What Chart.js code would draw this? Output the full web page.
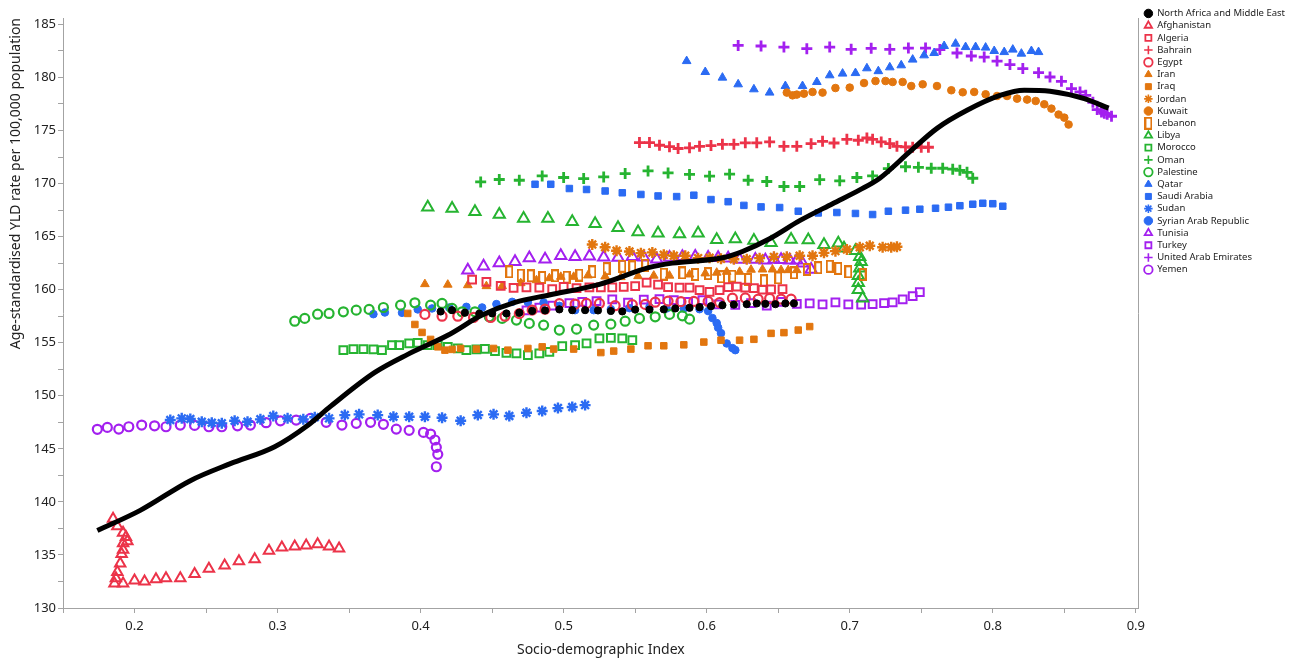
<!DOCTYPE html>
<html lang="en">
<head>
  <meta charset="UTF-8">
  <title>SDI vs YLD rate</title>
  <script src="https://cdn.jsdelivr.net/npm/chart.js"></script>
  <style>
    html, body { margin: 0; padding: 0; background: #fff; }
    #wrap { width: 1295px; height: 660px; }
  </style>
</head>
<body>
  <div id="wrap"><canvas id="sdiChart" width="1295" height="660"></canvas></div>

  <script>
    // ---- data (x = SDI, y = YLD rate) ----
    const fitX = [0.174,0.204,0.239,0.267,0.298,0.321,0.337,0.368,0.391,0.419,0.443,0.466,0.490,0.525,0.560,0.576,0.611,0.625,0.644,0.665,0.688,0.707,0.721,0.742,0.761,0.782,0.805,0.822,0.840,0.864,0.881];
    const fitY = [137.3,139.2,142.0,143.6,145.2,147.2,149.0,152.2,153.9,155.7,157.6,158.8,159.5,160.5,162.1,162.5,163.0,163.6,164.8,166.5,168.1,169.4,170.5,173.0,175.2,176.9,178.3,178.8,178.7,178.0,177.1];

    const nameX = [0.414,0.422,0.431,0.441,0.450,0.460,0.469,0.478,0.487,0.497,0.506,0.515,0.524,0.533,0.541,0.550,0.560,0.570,0.578,0.588,0.595,0.603,0.611,0.619,0.628,0.635,0.641,0.648,0.655,0.661];
    const nameY = [157.94,158.07,157.83,157.74,157.76,157.76,157.83,158.00,158.04,158.14,158.07,158.07,158.04,157.99,157.95,158.12,158.12,158.14,158.23,158.29,158.35,158.44,158.54,158.59,158.63,158.70,158.66,158.63,158.70,158.70];

    const afgX = [0.185,0.188,0.192,0.194,0.195,0.192,0.192,0.191,0.190,0.188,0.187,0.186,0.192,0.200,0.207,0.215,0.222,0.232,0.242,0.252,0.263,0.273,0.284,0.294,0.303,0.312,0.320,0.328,0.336,0.343];
    const afgY = [138.4,137.7,137.1,136.7,136.3,136.1,135.5,135.1,134.2,133.4,132.8,132.3,132.3,132.6,132.5,132.7,132.8,132.8,133.2,133.7,134.0,134.4,134.6,135.4,135.7,135.8,135.9,136.0,135.8,135.6];

    const algX = [0.436,0.446,0.456,0.465,0.474,0.483,0.492,0.500,0.509,0.518,0.526,0.534,0.542,0.550,0.558,0.566,0.573,0.581,0.588,0.595,0.602,0.609,0.615,0.621,0.627,0.633,0.639,0.645,0.653];
    const algY = [160.94,160.73,160.36,160.17,160.21,160.19,160.05,160.26,160.14,160.21,160.21,160.21,160.26,160.33,160.66,160.47,160.24,160.19,160.19,159.95,159.79,159.95,160.24,160.28,160.19,160.14,160.00,160.02,160.05];

    const bhrX = [0.553,0.560,0.567,0.574,0.580,0.588,0.595,0.603,0.611,0.619,0.627,0.635,0.644,0.654,0.663,0.673,0.681,0.689,0.698,0.706,0.712,0.716,0.722,0.728,0.733,0.739,0.744,0.750,0.755];
    const bhrY = [173.86,173.86,173.61,173.47,173.30,173.37,173.51,173.58,173.70,173.70,173.84,173.84,173.92,173.51,173.51,173.76,173.98,173.82,174.17,174.08,174.29,174.17,173.92,173.77,173.51,173.45,173.42,173.42,173.42];

    const egyX = [0.403,0.415,0.426,0.437,0.449,0.459,0.469,0.478,0.487,0.497,0.508,0.516,0.525,0.536,0.548,0.557,0.564,0.573,0.582,0.591,0.601,0.609,0.618,0.627,0.636,0.644,0.652,0.659];
    const egyY = [157.67,157.50,157.50,157.38,157.38,157.50,157.74,158.07,158.16,158.68,158.63,158.70,158.70,158.49,158.59,158.61,158.82,158.92,158.87,158.89,158.89,158.78,159.20,159.22,159.11,159.17,159.11,159.11];

    const irnX = [0.403,0.419,0.433,0.446,0.457,0.470,0.481,0.490,0.498,0.507,0.517,0.529,0.540,0.552,0.563,0.574,0.588,0.599,0.607,0.614,0.623,0.631,0.639,0.646,0.652,0.657,0.663];
    const irnY = [160.52,160.47,160.42,160.33,160.33,160.61,160.89,161.08,161.21,161.21,161.34,161.24,161.18,161.27,161.32,161.32,161.43,161.53,161.60,161.68,161.68,161.88,161.90,161.90,161.84,161.84,161.84];

    const irqX = [0.391,0.396,0.401,0.407,0.412,0.417,0.422,0.428,0.439,0.451,0.461,0.475,0.485,0.493,0.507,0.526,0.535,0.547,0.559,0.570,0.584,0.598,0.610,0.623,0.633,0.645,0.654,0.664,0.672];
    const irqY = [157.76,156.72,155.97,155.31,154.61,154.30,154.37,154.46,154.40,154.46,154.30,154.46,154.61,154.40,154.40,154.07,154.21,154.40,154.71,154.71,154.80,155.06,155.24,155.24,155.32,155.88,155.95,156.19,156.52];

    const jorX = [0.520,0.529,0.537,0.546,0.554,0.562,0.570,0.577,0.585,0.594,0.602,0.610,0.619,0.628,0.637,0.647,0.656,0.665,0.674,0.682,0.690,0.698,0.707,0.714,0.723,0.729,0.733];
    const jorY = [164.26,164.00,163.67,163.60,163.44,163.51,163.28,163.20,163.20,162.97,163.01,162.92,162.87,162.87,162.97,163.09,163.09,163.20,163.20,163.47,163.63,163.79,164.00,164.14,164.00,164.00,164.05];

    const kwtX = [0.656,0.660,0.663,0.668,0.674,0.681,0.690,0.700,0.710,0.718,0.725,0.730,0.737,0.743,0.751,0.761,0.771,0.779,0.787,0.795,0.803,0.810,0.817,0.824,0.830,0.836,0.841,0.846,0.850,0.853];
    const kwtY = [178.57,178.31,178.38,178.47,178.63,178.57,179.00,179.04,179.47,179.66,179.66,179.57,179.57,179.19,179.35,179.19,178.79,178.60,178.63,178.41,178.25,178.25,178.00,177.91,177.78,177.47,177.06,176.50,176.21,175.56];

    const lbnX = [0.462,0.470,0.477,0.485,0.494,0.502,0.511,0.520,0.530,0.541,0.548,0.557,0.570,0.583,0.592,0.601,0.610,0.618,0.629,0.640,0.650,0.661,0.670,0.678,0.686,0.692,0.699,0.709];
    const lbnY = [161.68,161.37,161.30,161.15,161.30,161.18,161.37,161.68,161.98,162.21,162.15,162.31,161.46,161.58,161.43,161.51,161.21,161.27,160.96,160.83,161.11,161.58,161.90,162.07,162.21,162.00,161.68,161.42];

    const lbyX = [0.405,0.422,0.438,0.455,0.472,0.489,0.506,0.522,0.538,0.552,0.566,0.581,0.594,0.607,0.620,0.633,0.645,0.659,0.671,0.682,0.692,0.696,0.704,0.707,0.708,0.707,0.706,0.706,0.706,0.709];
    const lbyY = [167.77,167.65,167.33,167.08,166.70,166.70,166.40,166.21,165.84,165.44,165.32,165.25,165.32,164.71,164.77,164.63,164.43,164.73,164.69,164.24,164.38,163.91,163.67,163.11,162.64,162.02,161.32,160.66,160.00,159.20];

    const marX = [0.346,0.353,0.360,0.367,0.373,0.380,0.385,0.392,0.398,0.405,0.412,0.419,0.426,0.432,0.439,0.445,0.452,0.460,0.467,0.475,0.483,0.490,0.499,0.508,0.516,0.525,0.533,0.541,0.548];
    const marY = [154.30,154.40,154.40,154.37,154.30,154.77,154.77,154.93,154.99,154.77,154.77,154.61,154.46,154.30,154.37,154.42,154.21,154.05,153.99,153.83,153.99,154.14,154.68,154.77,154.93,155.40,155.46,155.40,155.24];

    const omnX = [0.442,0.455,0.469,0.485,0.500,0.514,0.528,0.543,0.559,0.573,0.588,0.602,0.616,0.629,0.642,0.654,0.665,0.679,0.693,0.705,0.716,0.727,0.739,0.748,0.757,0.765,0.772,0.777,0.782,0.786];
    const omnY = [170.15,170.38,170.31,170.72,170.57,170.47,170.62,170.94,171.19,171.00,170.86,170.69,170.88,170.31,170.19,169.72,169.72,170.36,170.26,170.57,170.72,171.41,171.58,171.53,171.44,171.44,171.35,171.25,171.06,170.50];

    const pseX = [0.312,0.319,0.328,0.336,0.346,0.355,0.364,0.374,0.386,0.396,0.407,0.415,0.422,0.429,0.438,0.448,0.457,0.467,0.476,0.486,0.497,0.509,0.521,0.533,0.543,0.553,0.564,0.574,0.583,0.588];
    const pseY = [157.03,157.29,157.69,157.76,157.91,158.07,158.14,158.32,158.54,158.76,158.54,158.70,158.23,157.91,157.91,157.44,157.29,157.13,156.82,156.66,156.19,156.28,156.66,156.75,157.03,157.29,157.44,157.67,157.53,157.22];

    const qatX = [0.586,0.599,0.611,0.622,0.633,0.644,0.655,0.667,0.677,0.686,0.695,0.704,0.712,0.720,0.728,0.736,0.744,0.752,0.759,0.766,0.774,0.781,0.788,0.795,0.801,0.808,0.814,0.820,0.827,0.832];
    const qatY = [181.54,180.51,179.98,179.35,178.88,178.57,179.19,179.19,179.57,180.20,180.36,180.41,180.86,180.59,180.95,181.14,181.68,182.08,182.30,182.96,183.18,182.86,182.86,182.81,182.49,182.39,182.62,182.24,182.49,182.39];

    const sauX = [0.480,0.491,0.504,0.516,0.529,0.541,0.554,0.566,0.579,0.591,0.603,0.615,0.626,0.638,0.651,0.664,0.678,0.691,0.704,0.716,0.727,0.739,0.749,0.760,0.769,0.777,0.786,0.793,0.800,0.807];
    const sauY = [169.93,169.93,169.53,169.44,169.30,169.13,168.97,168.83,168.77,168.90,168.49,168.29,167.94,167.80,167.74,167.39,167.23,167.27,167.18,167.08,167.39,167.49,167.58,167.67,167.77,167.91,168.05,168.14,168.10,167.86];

    const sdnX = [0.225,0.233,0.239,0.247,0.254,0.261,0.270,0.279,0.288,0.297,0.307,0.318,0.326,0.336,0.347,0.357,0.370,0.381,0.392,0.403,0.415,0.428,0.440,0.451,0.462,0.474,0.485,0.496,0.506,0.515];
    const sdnY = [147.71,147.87,147.81,147.55,147.46,147.40,147.64,147.55,147.78,148.09,147.87,147.78,147.97,147.87,148.18,148.25,148.18,148.02,148.02,148.02,147.93,147.64,148.18,148.25,148.09,148.40,148.56,148.84,148.94,149.12];

    const syrX = [0.367,0.375,0.387,0.398,0.408,0.420,0.432,0.443,0.453,0.464,0.475,0.486,0.497,0.508,0.521,0.533,0.546,0.560,0.572,0.584,0.595,0.601,0.604,0.607,0.608,0.610,0.614,0.618,0.620];
    const syrY = [157.69,157.85,157.82,158.14,158.23,158.31,158.38,158.32,158.64,158.85,158.82,158.79,158.47,158.07,158.07,158.16,158.26,158.35,158.23,158.23,158.16,157.98,157.32,156.85,156.42,155.90,154.93,154.49,154.30];

    const tunX = [0.433,0.444,0.455,0.466,0.476,0.487,0.498,0.508,0.518,0.528,0.538,0.548,0.556,0.565,0.574,0.583,0.592,0.601,0.608,0.615,0.623,0.634,0.641,0.647,0.652,0.658,0.663,0.667,0.673];
    const tunY = [161.84,162.21,162.52,162.62,162.99,162.87,163.20,163.09,163.15,163.06,163.03,163.09,163.06,162.87,163.03,163.09,163.13,163.03,163.01,162.97,162.84,162.84,162.78,162.84,162.82,162.78,162.78,162.50,161.90];

    const turX = [0.474,0.483,0.492,0.504,0.513,0.523,0.534,0.545,0.556,0.567,0.577,0.587,0.597,0.608,0.620,0.631,0.642,0.652,0.663,0.672,0.681,0.690,0.699,0.708,0.716,0.724,0.730,0.737,0.744,0.749];
    const turY = [158.04,158.31,158.49,158.73,158.85,158.92,159.08,158.78,159.06,159.11,159.01,158.85,159.01,158.61,158.57,158.73,158.49,158.85,158.66,158.70,158.62,158.80,158.61,158.59,158.63,158.73,158.80,159.08,159.39,159.76];

    const uaeX = [0.622,0.638,0.654,0.670,0.686,0.701,0.715,0.728,0.741,0.753,0.763,0.775,0.785,0.794,0.803,0.812,0.821,0.832,0.840,0.848,0.855,0.861,0.865,0.870,0.873,0.876,0.878,0.880,0.883];
    const uaeY = [183.02,182.96,182.86,182.71,182.86,182.65,182.74,182.65,182.77,182.77,182.62,182.30,182.02,181.92,181.54,181.21,180.83,180.45,180.04,179.63,178.95,178.63,178.31,177.66,176.97,176.74,176.62,176.53,176.34];

    const yemX = [0.174,0.181,0.189,0.196,0.205,0.214,0.222,0.232,0.242,0.252,0.261,0.272,0.281,0.292,0.302,0.313,0.323,0.334,0.345,0.355,0.365,0.374,0.383,0.392,0.402,0.407,0.410,0.411,0.412,0.411];
    const yemY = [146.84,147.02,146.86,147.08,147.24,147.17,147.08,147.24,147.21,147.08,147.08,147.17,147.24,147.46,147.64,147.71,147.87,147.50,147.24,147.40,147.50,147.31,146.86,146.74,146.55,146.39,145.83,145.14,144.48,143.31];

    const xMajorTicks = [0.2, 0.3, 0.4, 0.5, 0.6, 0.7, 0.8, 0.9];
    const xMinorTicks = [0.15, 0.25, 0.35, 0.45, 0.55, 0.65, 0.75, 0.85];
    const yMajorTicks = [130, 135, 140, 145, 150, 155, 160, 165, 170, 175, 180, 185];
    const yMinorTicks = [132.5, 137.5, 142.5, 147.5, 152.5, 157.5, 162.5, 167.5, 172.5, 177.5, 182.5];

    const RED = '#ec3349', ORANGE = '#e2760f', GREEN = '#26b431', BLUE = '#2b6bf3', PURPLE = '#a320ef';
    const FONT = "'Noto Sans', 'Open Sans', sans-serif";

    // tall open rectangle used for Lebanon
    const tallRect = document.createElement('canvas');
    tallRect.width = 8; tallRect.height = 13;
    const tctx = tallRect.getContext('2d');
    tctx.strokeStyle = ORANGE; tctx.lineWidth = 2;
    tctx.strokeRect(1, 1, 6, 11);

    function pts(xs, ys) {
      return xs.map((x, i) => ({ x: x, y: ys[i] }));
    }

    function series(label, xs, ys, color, style, open, r, bw) {
      return {
        label: label,
        data: pts(xs, ys),
        pointStyle: style,
        pointRadius: r,
        pointBorderWidth: bw,
        borderWidth: bw,
        borderColor: color,
        backgroundColor: open ? 'rgba(0,0,0,0)' : color,
        pointBorderColor: color,
        pointBackgroundColor: open ? 'rgba(0,0,0,0)' : color,
        showLine: false
      };
    }

    const datasets = [
      {
        label: 'fit',
        data: pts(fitX, fitY),
        showLine: true,
        borderColor: '#000',
        borderWidth: 5,
        pointRadius: 0,
        cubicInterpolationMode: 'monotone',
        fill: false
      },
      series('North Africa and Middle East', nameX, nameY, '#000', 'circle', false, 3.6, 1),
      series('Afghanistan', afgX, afgY, RED, 'triangle', true, 6, 2),
      series('Algeria', algX, algY, RED, 'rect', true, 5.5, 2),
      series('Bahrain', bhrX, bhrY, RED, 'cross', false, 5.5, 2.8),
      series('Egypt', egyX, egyY, RED, 'circle', true, 4.5, 2.2),
      series('Iran', irnX, irnY, ORANGE, 'triangle', false, 5, 1),
      series('Iraq', irqX, irqY, ORANGE, 'rect', false, 4.6, 1),
      series('Jordan', jorX, jorY, ORANGE, 'star', false, 5.5, 2.4),
      series('Kuwait', kwtX, kwtY, ORANGE, 'circle', false, 3.8, 1),
      series('Lebanon', lbnX, lbnY, ORANGE, tallRect, true, 6, 2),
      series('Libya', lbyX, lbyY, GREEN, 'triangle', true, 6.5, 2),
      series('Morocco', marX, marY, GREEN, 'rect', true, 5.5, 2),
      series('Oman', omnX, omnY, GREEN, 'cross', false, 5.5, 2.8),
      series('Palestine', pseX, pseY, GREEN, 'circle', true, 4.5, 2.2),
      series('Qatar', qatX, qatY, BLUE, 'triangle', false, 5, 1),
      series('Saudi Arabia', sauX, sauY, BLUE, 'rect', false, 4.6, 1),
      series('Sudan', sdnX, sdnY, BLUE, 'star', false, 5.5, 2.4),
      series('Syrian Arab Republic', syrX, syrY, BLUE, 'circle', false, 3.8, 1),
      series('Tunisia', tunX, tunY, PURPLE, 'triangle', true, 6.5, 2),
      series('Turkey', turX, turY, PURPLE, 'rect', true, 5.5, 2),
      series('United Arab Emirates', uaeX, uaeY, PURPLE, 'cross', false, 5.5, 2.8),
      series('Yemen', yemX, yemY, PURPLE, 'circle', true, 4.5, 2.2)
    ];

    const xTickVals = xMajorTicks.concat(xMinorTicks).sort((a, b) => a - b);
    const yTickVals = yMajorTicks.concat(yMinorTicks).sort((a, b) => a - b);
    const axisGrey = '#a3a3a3';

    new Chart(document.getElementById('sdiChart').getContext('2d'), {
      type: 'scatter',
      data: { datasets: datasets },
      options: {
        responsive: false,
        animation: false,
        events: [],
        layout: { padding: { left: 0, right: 0, top: 6, bottom: 0 } },
        plugins: {
          tooltip: { enabled: false },
          legend: {
            position: 'right',
            align: 'start',
            maxWidth: 154,
            labels: {
              usePointStyle: true,
              boxWidth: 8,
              boxHeight: 6,
              padding: 2.7,
              color: '#222',
              font: { family: FONT, size: 9.5 },
              filter: item => item.datasetIndex !== 0,
              generateLabels: chart => {
                const items = Chart.defaults.plugins.legend.labels.generateLabels(chart);
                items.forEach(it => {
                  // thinner strokes so the small legend symbols stay readable
                  if (it.pointStyle === 'star' || it.pointStyle === 'cross') it.lineWidth = 1.6;
                  else if (it.lineWidth > 1.6) it.lineWidth = 1.8;
                });
                return items;
              }
            }
          }
        },
        scales: {
          x: {
            type: 'linear',
            min: 0.15,
            max: 0.902,
            afterBuildTicks: s => { s.ticks = xTickVals.map(v => ({ value: v })); },
            afterFit: s => { s.height = 52; },
            grid: { drawOnChartArea: false, drawTicks: true, tickLength: 5, color: axisGrey },
            border: { display: true, color: axisGrey, width: 1 },
            ticks: {
              padding: 5,
              color: '#222',
              font: { family: FONT, size: 13 },
              maxRotation: 0,
              autoSkip: false,
              callback: v => xMajorTicks.some(m => Math.abs(m - v) < 1e-6) ? v.toFixed(1) : ''
            },
            title: {
              display: true,
              text: 'Socio-demographic Index',
              color: '#222',
              font: { family: FONT, size: 14 },
              padding: { top: 0, bottom: 2 }
            }
          },
          xTop: {
            type: 'linear',
            position: 'top',
            display: true,
            grid: { display: false },
            border: { display: false },
            ticks: { display: false },
            afterFit: s => { s.height = 12; }
          },
          y: {
            type: 'linear',
            min: 130,
            max: 185.6,
            afterBuildTicks: s => { s.ticks = yTickVals.map(v => ({ value: v })); },
            afterFit: s => { s.width = 63; },
            grid: { drawOnChartArea: false, drawTicks: true, tickLength: 5, color: axisGrey },
            border: { display: true, color: axisGrey, width: 1 },
            ticks: {
              padding: 2,
              color: '#222',
              font: { family: FONT, size: 13 },
              autoSkip: false,
              callback: v => yMajorTicks.includes(v) ? String(v) : ''
            },
            title: {
              display: true,
              text: 'Age-standardised YLD rate per 100,000 population',
              color: '#222',
              align: 'end',
              font: { family: FONT, size: 14 },
              padding: { top: 8, bottom: 0 }
            }
          },
          yRight: {
            type: 'linear',
            position: 'right',
            display: true,
            grid: { display: false },
            border: { display: true, color: axisGrey, width: 1 },
            ticks: { display: false },
            afterFit: s => { s.width = 3; }
          }
        }
      }
    });
  </script>
</body>
</html>
